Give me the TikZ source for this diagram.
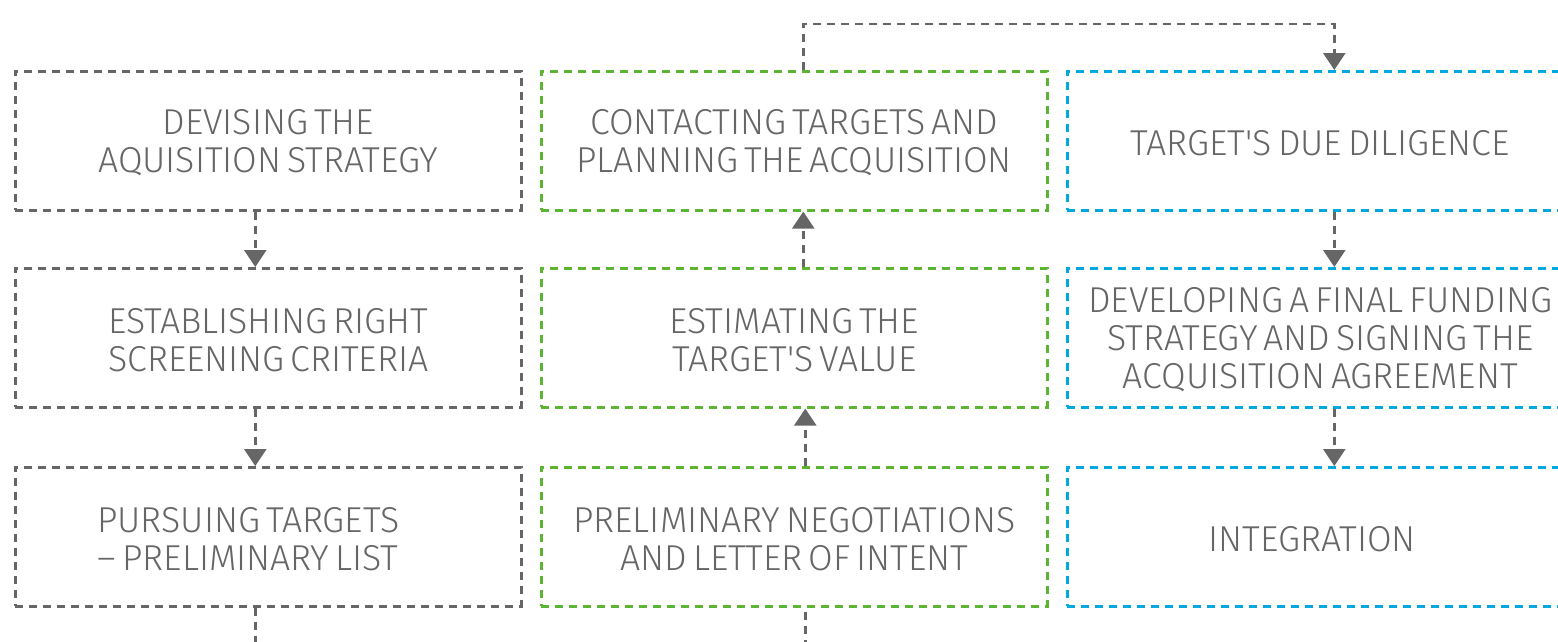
\documentclass[tikz,border=0pt]{standalone}
\usepackage{fontspec}
\setmainfont{Fira Sans Light}[FakeStretch=0.99,WordSpace=0.6]
\usetikzlibrary{arrows.meta,calc}
\definecolor{gline}{HTML}{666666}
\definecolor{gtext}{HTML}{666666}
\definecolor{grn}{HTML}{5BB432}
\definecolor{blu}{HTML}{00A8E0}
\begin{document}
\begin{tikzpicture}[x=1pt,y=-1pt,
  box/.style={draw=#1, line width=2.6pt, dash pattern=on 8pt off 6pt, minimum width=506pt, minimum height=139pt, inner sep=0pt, anchor=north west},
  txt/.style={text=gtext, font=\fontsize{36}{38}\selectfont, align=center, inner sep=0pt},
  conn/.style={draw=gline, line width=2.6pt, dash pattern=on 8pt off 6pt},
  arr/.style={conn, -{Triangle[width=22pt,length=17pt]}}]
\clip (0,0) rectangle (1558,641);
% left column
\node[box=gline] (a1) at (14,70) {};
\node[box=gline] (a2) at (14,267) {};
\node[box=gline] (a3) at (14,466) {};
% middle column
\node[box=grn] (b1) at (540,70) {};
\node[box=grn] (b2) at (540,267) {};
\node[box=grn] (b3) at (540,466) {};
% right column
\node[box=blu] (c1) at (1066,70) {};
\node[box=blu] (c2) at (1066,267) {};
\node[box=blu] (c3) at (1066,466) {};
% texts
\node[txt] (ta1) at ([yshift=-2pt]a1.center) {DEVISING THE\\AQUISITION STRATEGY};
\node[txt] (ta2) at ([yshift=-2pt]a2.center) {ESTABLISHING RIGHT\\SCREENING CRITERIA};
\node[txt] (ta3) at ([yshift=-2pt,xshift=-20pt]a3.center) {PURSUING TARGETS\\-- PRELIMINARY LIST};
\node[txt] (tb1) at ([yshift=-2pt]b1.center) {CONTACTING TARGETS AND\\PLANNING THE ACQUISITION};
\node[txt] (tb2) at ([yshift=-2pt]b2.center) {ESTIMATING THE\\TARGET\textquotesingle S VALUE};
\node[txt] (tb3) at ([yshift=-2pt]b3.center) {PRELIMINARY NEGOTIATIONS\\AND LETTER OF INTENT};
\node[txt] (tc1) at ([yshift=-2pt]c1.center) {TARGET\textquotesingle S DUE DILIGENCE};
\node[txt] (tc2) at ([yshift=-2pt]c2.center) {DEVELOPING A FINAL FUNDING\\STRATEGY AND SIGNING THE\\ACQUISITION AGREEMENT};
\node[txt] (tc3) at ([yshift=-2pt,xshift=-8pt]c3.center) {INTEGRATION};
% connectors
\draw[arr] ([xshift=-13pt]a1.south) -- ([xshift=-13pt]a2.north);
\draw[arr] ([xshift=-13pt]a2.south) -- ([xshift=-13pt]a3.north);
\draw[conn] ([xshift=-13pt]a3.south) -- ++(0,60) -| ([xshift=11pt]b3.south);
\draw[arr] ([xshift=11pt]b3.north) -- ([xshift=11pt]b2.south);
\draw[arr] ([xshift=9pt]b2.north) -- ([xshift=9pt]b1.south);
\draw[arr] ([xshift=9pt]b1.north) -- ++(0,-46) -| ([xshift=14pt]c1.north);
\draw[arr] ([xshift=14pt]c1.south) -- ([xshift=14pt]c2.north);
\draw[arr] ([xshift=14pt]c2.south) -- ([xshift=14pt]c3.north);
\end{tikzpicture}
\end{document}
